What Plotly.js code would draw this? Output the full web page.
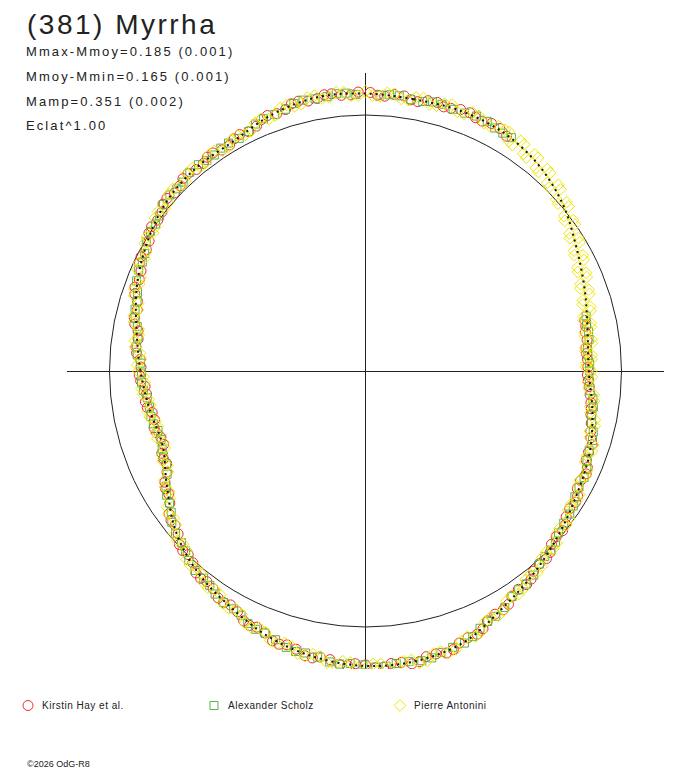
<!DOCTYPE html>
<html><head><meta charset="utf-8">
<script src="https://cdn.plot.ly/plotly-3.0.1.min.js"></script>
<style>
html,body{margin:0;padding:0;background:#fff;}
#chart{width:688px;height:768px;}
.legendtext{letter-spacing:0.5px;transform:translateX(-6px);}
.annotation[data-index="0"] text{letter-spacing:2.5px;}
.annotation[data-index="1"] text,.annotation[data-index="2"] text,.annotation[data-index="3"] text,.annotation[data-index="4"] text{letter-spacing:2.1px;}
</style></head><body><div id="chart"></div>
<script>
// Rotational phase (degrees, clockwise from top) and relative radius (mean circle = 1)
const hayPhase = [1,4,8,11,15,18,22,25,29,77,80,84,87,91,94,98,101,105,108,112,115,119,122,126,129,133,136,140,143,147,150,154,157,161,164,168,171,175,178,182,185,189,192,196,199,203,206,210,213,217,220,224,227,231,234,238,241,245,248,252,255,259,262,266,269,273,276,280,283,287,290,294,297,301,304,308,311,315,318,322,325,329,332,336,339,343,346,350,353,357];
const hayR = [1.088,1.076,1.085,1.072,1.086,1.079,1.088,1.077,1.083,0.879,0.872,0.866,0.868,0.867,0.876,0.889,0.897,0.911,0.931,0.930,0.951,0.946,0.967,0.969,0.991,0.993,1.018,1.021,1.045,1.049,1.077,1.086,1.117,1.124,1.146,1.141,1.158,1.147,1.160,1.144,1.152,1.131,1.137,1.113,1.115,1.087,1.086,1.055,1.057,1.030,1.030,0.997,0.994,0.957,0.949,0.906,0.896,0.857,0.858,0.840,0.855,0.849,0.868,0.863,0.884,0.881,0.902,0.902,0.927,0.931,0.958,0.960,0.984,0.986,1.008,1.009,1.028,1.024,1.037,1.029,1.040,1.030,1.046,1.047,1.069,1.068,1.086,1.081,1.091,1.080];
const hayPhase2 = [2.5,6,9.5,13,16.5,20,23.5,27,31,78.5,82,85.5,89,92.5,96,99.5,103,106.5,110,113.5,117,120.5,124,127.5,131,134.5,138,141.5,145,148.5,152,155.5,159,162.5,166,169.5,173,176.5,180,183.5,187,190.5,194,197.5,201,204.5,208,211.5,215,218.5,222,225.5,229,232.5,236,239.5,243,246.5,250,253.5,257,260.5,264,267.5,271,274.5,278,281.5,285,288.5,292,295.5,299,302.5,306,309.5,313,316.5,320,323.5,327,330.5,334,337.5,341,344.5,348,351.5,355,358.5];
const hayR2 = [1.078,1.086,1.074,1.084,1.076,1.087,1.079,1.085,1.070,0.878,0.874,0.866,0.869,0.871,0.882,0.894,0.905,0.918,0.927,0.945,0.943,0.962,0.962,0.985,0.987,1.011,1.014,1.039,1.041,1.069,1.076,1.107,1.116,1.141,1.139,1.155,1.147,1.159,1.148,1.153,1.136,1.140,1.120,1.119,1.096,1.092,1.065,1.061,1.038,1.035,1.008,1.001,0.970,0.958,0.922,0.906,0.870,0.861,0.839,0.851,0.846,0.864,0.860,0.879,0.877,0.897,0.897,0.920,0.923,0.950,0.953,0.978,0.979,1.003,1.003,1.025,1.020,1.036,1.028,1.039,1.029,1.042,1.040,1.063,1.063,1.083,1.078,1.091,1.081,1.090];

const scholzPhase = [3,7,12,16,21,26,30,78,82,86,90,95,99,103,107,112,116,121,125,130,134,138,143,147,152,156,160,165,169,174,178,183,187,192,196,201,205,209,214,218,223,227,232,236,240,245,249,254,258,263,267,272,276,281,285,289,294,298,303,307,312,316,321,325,329,334,338,343,347,352,356];
const scholzR = [1.079,1.083,1.076,1.084,1.079,1.085,1.073,0.883,0.882,0.871,0.876,0.881,0.901,0.906,0.927,0.933,0.950,0.954,0.974,0.984,1.007,1.015,1.042,1.051,1.085,1.100,1.131,1.138,1.153,1.149,1.157,1.144,1.145,1.126,1.123,1.097,1.088,1.062,1.051,1.027,1.012,0.983,0.960,0.923,0.900,0.858,0.851,0.843,0.857,0.859,0.876,0.880,0.899,0.908,0.932,0.942,0.970,0.977,1.002,1.007,1.028,1.026,1.037,1.030,1.039,1.041,1.063,1.069,1.086,1.082,1.088];
const scholzPhase2 = [5,9.5,14,18.5,23.5,28,32,76,80,84,88,92.5,97,101,105,109.5,114,118.5,123,127.5,132,136,140.5,145,149.5,154,158,162.5,167,171.5,176,180.5,185,189.5,194,198.5,203,207,211.5,216,220.5,225,229.5,234,238,242.5,247,251.5,256,260.5,265,269.5,274,278.5,283,287,291.5,296,300.5,305,309.5,314,318.5,323,327,331.5,336,340.5,345,349.5,354,358];
const scholzR2 = [1.083,1.075,1.083,1.078,1.086,1.075,1.075,0.888,0.885,0.872,0.876,0.875,0.895,0.900,0.921,0.927,0.946,0.949,0.968,0.976,0.999,1.008,1.033,1.043,1.072,1.089,1.119,1.132,1.150,1.148,1.156,1.148,1.149,1.133,1.129,1.107,1.096,1.071,1.060,1.035,1.025,0.994,0.976,0.938,0.916,0.874,0.857,0.842,0.854,0.855,0.871,0.875,0.894,0.899,0.924,0.933,0.961,0.970,0.994,1.001,1.023,1.024,1.036,1.030,1.038,1.034,1.056,1.063,1.082,1.081,1.089,1.081];

const antoniniPhase = [0,3,6,9,12,15,18,21,24,27,30,32,34,36,38,40,42,44,46,48,50,52,54,56,58,60,62,64,66,68,70,72,74,76,78,80,82,84,86,88,90,93,96,99,102,105,108,111,114,117,120,123,126,129,132,135,138,141,144,147,150,153,156,159,162,165,168,171,174,177,180,183,186,189,192,195,198,201,204,207,210,213,216,219,222,225,228,231,234,237,240,243,246,249,252,255,258,261,264,267,270,273,276,279,282,285,288,291,294,297,300,303,306,309,312,315,318,321,324,327,330,333,336,339,342,345,348,351,354,357];
const antoniniR = [1.092,1.074,1.089,1.071,1.090,1.073,1.094,1.075,1.091,1.072,1.088,1.058,1.085,1.049,1.074,1.036,1.061,1.022,1.047,1.003,1.026,0.984,1.003,0.960,0.981,0.940,0.962,0.921,0.943,0.905,0.928,0.893,0.913,0.879,0.899,0.870,0.891,0.864,0.886,0.863,0.883,0.871,0.897,0.889,0.916,0.908,0.935,0.926,0.950,0.940,0.964,0.956,0.983,0.976,1.004,0.999,1.028,1.023,1.051,1.047,1.079,1.078,1.114,1.112,1.143,1.135,1.158,1.143,1.163,1.146,1.162,1.140,1.153,1.129,1.139,1.114,1.121,1.093,1.097,1.067,1.070,1.042,1.047,1.019,1.022,0.990,0.990,0.955,0.951,0.912,0.905,0.867,0.867,0.840,0.855,0.841,0.862,0.851,0.874,0.864,0.888,0.879,0.904,0.897,0.925,0.920,0.951,0.947,0.975,0.969,0.997,0.990,1.017,1.009,1.033,1.021,1.040,1.025,1.043,1.026,1.044,1.035,1.061,1.054,1.080,1.070,1.092,1.078,1.094,1.077];
const antoniniPhase2 = [1.5,4.5,7.5,10.5,13.5,16.5,19.5,22.5,25.5,28.5,31,33,35,37,39,41,43,45,47,49,51,53,55,57,59,61,63,65,67,69,71,73,75,77,79,81,83,85,87,89,91.5,94.5,97.5,100.5,103.5,106.5,109.5,112.5,115.5,118.5,121.5,124.5,127.5,130.5,133.5,136.5,139.5,142.5,145.5,148.5,151.5,154.5,157.5,160.5,163.5,166.5,169.5,172.5,175.5,178.5,181.5,184.5,187.5,190.5,193.5,196.5,199.5,202.5,205.5,208.5,211.5,214.5,217.5,220.5,223.5,226.5,229.5,232.5,235.5,238.5,241.5,244.5,247.5,250.5,253.5,256.5,259.5,262.5,265.5,268.5,271.5,274.5,277.5,280.5,283.5,286.5,289.5,292.5,295.5,298.5,301.5,304.5,307.5,310.5,313.5,316.5,319.5,322.5,325.5,328.5,331.5,334.5,337.5,340.5,343.5,346.5,349.5,352.5,355.5,358.5];
const antoniniR2 = [1.076,1.090,1.072,1.087,1.071,1.089,1.074,1.093,1.073,1.089,1.090,1.052,1.080,1.043,1.071,1.030,1.058,1.014,1.041,0.996,1.021,0.975,0.998,0.952,0.976,0.933,0.957,0.915,0.939,0.899,0.925,0.887,0.910,0.875,0.897,0.868,0.890,0.862,0.885,0.861,0.885,0.875,0.901,0.894,0.921,0.913,0.939,0.929,0.953,0.944,0.968,0.960,0.988,0.981,1.010,1.004,1.034,1.028,1.057,1.054,1.088,1.086,1.122,1.120,1.148,1.136,1.160,1.144,1.164,1.145,1.161,1.137,1.150,1.125,1.136,1.108,1.116,1.086,1.091,1.060,1.065,1.037,1.041,1.013,1.015,0.982,0.981,0.944,0.940,0.900,0.894,0.857,0.860,0.837,0.854,0.843,0.865,0.854,0.877,0.867,0.892,0.883,0.909,0.901,0.931,0.926,0.958,0.951,0.981,0.975,1.002,0.995,1.022,1.012,1.036,1.022,1.042,1.026,1.043,1.027,1.046,1.039,1.066,1.059,1.084,1.072,1.094,1.078,1.093,1.076];

// Fitted light-curve model
const fitPhase = [0,10,20,30,40,50,60,70,80,90,100,110,120,130,140,150,160,170,180,190,200,210,220,230,240,250,260,270,280,290,300,310,320,330,340,350,360];
const fitR = [1.084,1.078,1.082,1.076,1.051,1.008,0.953,0.912,0.881,0.872,0.900,0.932,0.955,0.988,1.027,1.070,1.127,1.150,1.152,1.135,1.105,1.061,1.023,0.969,0.896,0.844,0.857,0.879,0.908,0.951,0.988,1.020,1.033,1.035,1.066,1.086,1.084];

const titleText = "(381) Myrrha";
const statLines = ["Mmax-Mmoy=0.185 (0.001)","Mmoy-Mmin=0.165 (0.001)","Mamp=0.351 (0.002)","Eclat^1.00"];
const footerText = "\u00a92026 OdG-R8";
const observers = ["Kirstin Hay et al.","Alexander Scholz","Pierre Antonini"];

function polarX(ph, r){ return ph.map((t,i)=> r[i]*Math.sin(t*Math.PI/180)); }
function polarY(ph, r){ return ph.map((t,i)=> r[i]*Math.cos(t*Math.PI/180)); }

const hayP = hayPhase.concat(hayPhase2), hayRR = hayR.concat(hayR2);
const schP = scholzPhase.concat(scholzPhase2), schRR = scholzR.concat(scholzR2);
const antP = antoniniPhase.concat(antoniniPhase2), antRR = antoniniR.concat(antoniniR2);

const traces = [
 {type:'scatter', mode:'markers', name:observers[0], x:polarX(hayP,hayRR), y:polarY(hayP,hayRR),
  marker:{symbol:'circle-open', size:10, color:'#ee2a2a', line:{width:1,color:'#ee2a2a'}}},
 {type:'scatter', mode:'markers', name:observers[1], x:polarX(schP,schRR), y:polarY(schP,schRR),
  marker:{symbol:'square-open', size:8, color:'#55b545', line:{width:1,color:'#55b545'}}},
 {type:'scatter', mode:'markers', name:observers[2], x:polarX(antP,antRR), y:polarY(antP,antRR),
  marker:{symbol:'diamond-open', size:9, color:'#f2e600', line:{width:1,color:'#f2e600'}}},
 {type:'scatter', mode:'lines', showlegend:false, x:polarX(fitPhase,fitR), y:polarY(fitPhase,fitR),
  line:{color:'#111', width:2, dash:'2px,4px', shape:'spline'}}
];

const W=688, H=768, ML=67, MR=24, MT=73, MB=99;
const PW=W-ML-MR, PH=H-MT-MB;
const unit=256;
function px2paperX(px){ return (px-ML)/PW; }
function px2paperY(py){ return (H-MB-py)/PH; }
const font='Liberation Sans, Arial, sans-serif';

const statY=[51.3,76.3,101.3,125];
const annotations=[{text:titleText, xref:'paper', yref:'paper', x:px2paperX(25), y:px2paperY(25), xanchor:'left', yanchor:'middle', align:'left', showarrow:false, font:{family:font,size:28,color:'#222'}}];
statLines.forEach((s,i)=>annotations.push({text:s, xref:'paper', yref:'paper', x:px2paperX(24), y:px2paperY(statY[i]), xanchor:'left', yanchor:'middle', align:'left', showarrow:false, font:{family:font,size:13,color:'#222'}}));
annotations.push({text:footerText, xref:'paper', yref:'paper', x:px2paperX(25), y:px2paperY(763.5), xanchor:'left', yanchor:'middle', align:'left', showarrow:false, font:{family:font,size:9,color:'#222'}});

const layout={
 width:W, height:H, margin:{l:ML,r:MR,t:MT,b:MB,pad:0},
 paper_bgcolor:'#fff', plot_bgcolor:'rgba(0,0,0,0)',
 xaxis:{range:[-PW/2/unit, PW/2/unit], showgrid:false, zeroline:true, zerolinecolor:'#222', zerolinewidth:1, showticklabels:false, ticks:'', showline:false, fixedrange:true},
 yaxis:{range:[-PH/2/unit, PH/2/unit], showgrid:false, zeroline:true, zerolinecolor:'#222', zerolinewidth:1, showticklabels:false, ticks:'', showline:false, fixedrange:true},
 shapes:[{type:'circle', xref:'x', yref:'y', x0:-1, y0:-1, x1:1, y1:1, line:{color:'#222', width:1}, layer:'below'}],
 showlegend:true,
 legend:{orientation:'h', xref:'container', yref:'container', x:8/W, y:1-705.5/H, xanchor:'left', yanchor:'middle', entrywidth:141, font:{family:font,size:10,color:'#222'}, bgcolor:'rgba(0,0,0,0)', borderwidth:0, itemclick:false},
 annotations:annotations
};
Plotly.newPlot('chart', traces, layout, {displayModeBar:false, staticPlot:true});
</script></body></html>
